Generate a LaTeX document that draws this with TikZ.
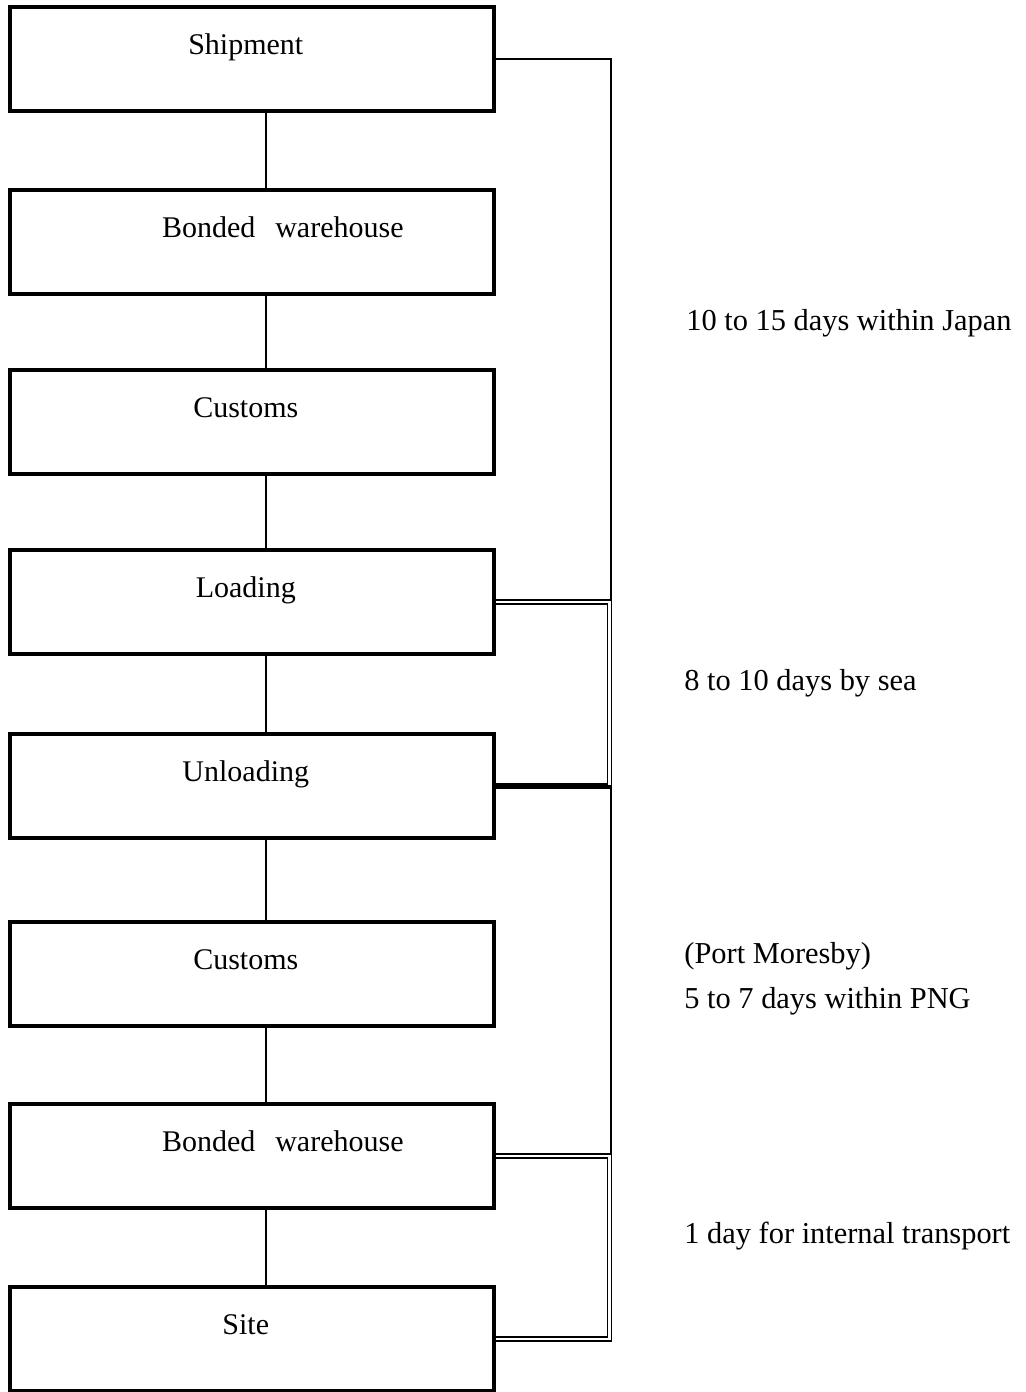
\documentclass[tikz,border=0pt]{standalone}
\usepackage{fontspec}
\setmainfont{Liberation Serif}
\begin{document}
\begin{tikzpicture}[x=0.5pt,y=-0.5pt,
  box/.style={draw, line width=1.8pt, anchor=north west, inner sep=0pt,
    minimum width=242pt, text width=242pt, align=center,
    text height=24pt, text depth=28pt, font=\fontsize{15}{18}\selectfont},
  link/.style={line width=1pt},
  dlink/.style={line width=0.8pt, double, double distance=1.2pt},
  note/.style={anchor=base west, inner sep=0pt, font=\fontsize{15.2}{18}\selectfont}]
\useasboundingbox (0,0) rectangle (1025,1392);
\node[box] (n1) at (8,5) {\hspace*{-6pt}Shipment};
\node[box] (n2) at (8,188) {\hspace*{31pt}Bonded~~warehouse};
\node[box] (n3) at (8,368) {\hspace*{-6pt}Customs};
\node[box] (n4) at (8,548) {\hspace*{-6pt}Loading};
\node[box] (n5) at (8,732) {\hspace*{-6pt}Unloading};
\node[box] (n6) at (8,920) {\hspace*{-6pt}Customs};
\node[box] (n7) at (8,1102) {\hspace*{31pt}Bonded~~warehouse};
\node[box] (n8) at (8,1285) {\hspace*{-6pt}Site};
\foreach \a/\b in {n1/n2,n2/n3,n3/n4,n4/n5,n5/n6,n6/n7,n7/n8}
  \draw[link] ([xshift=7pt]\a.south) -- ([xshift=7pt]\b.north);
\draw[link] (n1.east) -- ++(115,0) |- (n4.east);
\draw[dlink] (n4.east) -- ++(114,0) |- (n5.east);
\draw[link] (n5.east) -- ++(115,0) |- (n7.east);
\draw[dlink] (n7.east) -- ++(114,0) |- (n8.east);
\node[note] (t1) at (686,330) {10 to 15 days within Japan};
\node[note] (t2) at (684,690) {8 to 10 days by sea};
\node[note] (t3) at (684,963) {(Port Moresby)};
\node[note] (t4) at (684,1008) {5 to 7 days within PNG};
\node[note] (t5) at (684,1243) {1 day for internal transport};
\end{tikzpicture}
\end{document}
